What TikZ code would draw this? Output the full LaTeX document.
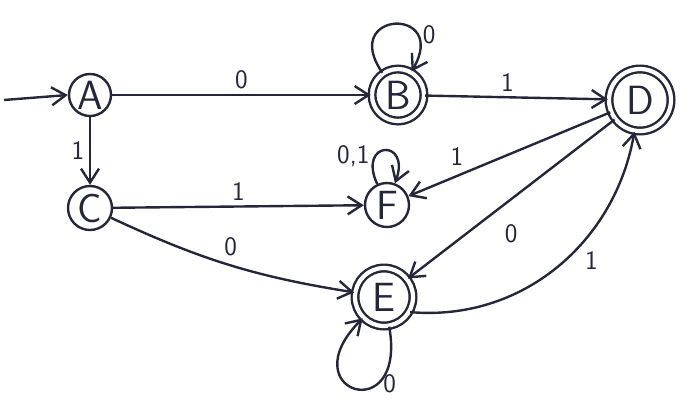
\documentclass[tikz,border=0pt]{standalone}
\usepackage{tikz}
\usetikzlibrary{automata, arrows.meta, positioning}
\definecolor{ink}{RGB}{38,38,58}

\begin{document}
\begin{tikzpicture}[node distance=2cm, auto, >={Straight Barb[length=3.5mm, width=4.5mm]}]
    \tikzstyle{plain} = [state, draw=ink, line width=1.7pt, minimum size=1.05cm, inner sep=0pt, font=\sffamily\fontsize{29}{32}\selectfont, text=ink]
    \tikzstyle{final} = [plain, double=white, double distance=3pt]
    \tikzstyle{trans} = [->, draw=ink, line width=1.7pt]
    \tikzstyle{sym} = [font=\sffamily\fontsize{19}{22}\selectfont, text=ink]

    \useasboundingbox (0,0) rectangle (17.3,-10.125);

    \node [plain] (A) at (2.25,-2.375) {A};
    \node [final, minimum size=1.3cm, right of=A, node distance=7.7cm] (B) {B};
    \node [final, minimum size=1.55cm, right of=B, node distance=6.05cm, yshift=-0.125cm] (D) {D};
    \node [plain, minimum size=1.1cm, below of=A, node distance=2.825cm] (C) {C};
    \node [plain, minimum size=1.1cm, right of=C, node distance=7.425cm, yshift=0.075cm] (F) {F};
    \node [final, minimum size=1.45cm, below of=F, node distance=2.3cm, xshift=-0.075cm] (E) {E};
    \coordinate (start) at (0.1,-2.5);

    % start arrow
    \draw [trans] (start) -- (A.west);

    % transitions out of A and C
    \draw [trans] (A) -- node[sym] {0} (B);
    \draw [trans] (A) -- node[sym, swap] {1} (C);
    \draw [trans] (C) -- node[sym] {1} (F);
    \draw [trans] (C) to [bend right=8] node[sym, pos=0.45] {0} (E);

    % transitions out of B and D
    \draw [trans] (B) to [loop, out=125, in=60, min distance=1.9cm] node[sym, right, pos=0.75] {0} (B);
    \draw [trans] (B) -- node[sym, pos=0.45] {1} (D);
    \draw [trans] (D) -- node[sym, swap, pos=0.7] {1} (F);
    \draw [trans] (D) -- node[sym, pos=0.5, below=0.5cm] {0} (E);

    % loops on F and E, E back to D
    \draw [trans] (F) to [loop, out=115, in=70, min distance=1.2cm] node[sym, left, pos=0.3] {0,1} (F);
    \draw [trans] (E) to [loop, out=-80, in=-135, min distance=2.6cm] node[sym, right, pos=0.3] {0} (E);
    \draw [trans] (E.-30) to [out=-5, in=-100] node[sym, swap, pos=0.6] {1} (D.-100);
\end{tikzpicture}
\end{document}
